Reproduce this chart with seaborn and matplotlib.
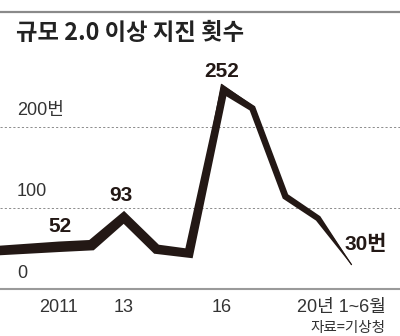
import numpy as np
import pandas as pd
import matplotlib
matplotlib.use("Agg")
import matplotlib.pyplot as plt
import matplotlib.transforms as mtransforms
from matplotlib.lines import Line2D
from matplotlib import font_manager as fm
import seaborn as sns

# ---- data -------------------------------------------------------------
years = [2009, 2010, 2011, 2012, 2013, 2014, 2015, 2016, 2017, 2018, 2019, 2020]
counts = [47, 49.5, 52, 54, 93, 49, 44, 252, 224, 115, 88, 30]
value_labels = {2011: "52", 2013: "93", 2016: "252", 2020: "30번"}
tick_years = [2011, 2013, 2016, 2020]
tick_labels = ["2011", "13", "16", "20년 1~6월"]
grid_values = [0, 100, 200]
grid_labels = ["0", "100", "200번"]
title = "규모 2.0 이상 지진 횟수"
source = "자료=기상청"

# ---- stroke style: pen width (px) and share of it above the data line --
stroke_px = [9.5, 10, 10.5, 10.5, 9, 9.5, 9, 7, 6.5, 6.5, 6, 0.6]
stroke_top = [0.5, 0.5, 0.5, 0.5, 0.2, 0.5, 0.5, 0.0, 0.2, 0.3, 0.3, 0.5]

INK = "#231815"
GRAY_TXT = "#333333"

sns.set_theme(style="white")
names = {f.name for f in fm.fontManager.ttflist}
latin = "Liberation Sans Narrow" if "Liberation Sans Narrow" in names else "Liberation Sans"
FONTS = [latin, "Noto Sans CJK KR", "DejaVu Sans"]
plt.rcParams["font.family"] = FONTS

DPI = 100
fig = plt.figure(figsize=(4.0, 3.36), dpi=DPI)
fig.patch.set_facecolor("white")

# axes: zero line 289px from top, 0.812 px per unit
ax = fig.add_axes([0.0, (336 - 289) / 336, 1.0, 270 * 0.812 / 336])
ax.set_xlim(2011 - 59 / 32.5, 2011 + 341 / 32.5)
ax.set_ylim(0, 270)
ax.set_facecolor("white")

df = pd.DataFrame({"year": years, "count": counts})


def draw_ribbon(ax, x, y, widths, top_frac, color, max_miter=2.5):
    """Fill a pen-like stroke of varying width along the polyline."""
    pts = ax.transData.transform(np.column_stack([x, y]))
    d = np.diff(pts, axis=0)
    seg_n = np.column_stack([d[:, 1], -d[:, 0]]) / np.hypot(d[:, 0], d[:, 1])[:, None]
    n = len(pts)
    upper, lower = [], []
    for i in range(n):
        if i == 0:
            m = seg_n[0]
        elif i == n - 1:
            m = seg_n[-1]
        else:
            b = seg_n[i - 1] + seg_n[i]
            b = b / np.linalg.norm(b)
            m = b / max(np.dot(b, seg_n[i]), 1 / max_miter)
        upper.append(pts[i] - m * widths[i] * top_frac[i])
        lower.append(pts[i] + m * widths[i] * (1 - top_frac[i]))
    poly = np.vstack([upper, lower[::-1]])
    poly = ax.transData.inverted().transform(poly)
    ax.fill(poly[:, 0], poly[:, 1], color=color, lw=0, zorder=3)


# dashed reference lines
for v in grid_values[1:]:
    ax.axhline(v, color="#8c8c8c", lw=0.7, ls=(0, (2.2, 2.2)), zorder=1)

# the line itself
sns.lineplot(data=df, x="year", y="count", ax=ax, color=INK, lw=0.9, zorder=4)
draw_ribbon(ax, df["year"].values, df["count"].values, stroke_px, stroke_top, INK)

# y value labels above each reference line
ylab_tf = mtransforms.blended_transform_factory(ax.transAxes, ax.transData)
for v, t in zip(grid_values, grid_labels):
    ax.annotate(t, xy=(17 / 400, v), xycoords=ylab_tf, xytext=(0, 16),
                textcoords="offset pixels", ha="left", va="center",
                fontsize=13, color=GRAY_TXT, family=FONTS)

# point labels
offsets = {2011: (1, 20, "center"), 2013: (-3, 18, "center"),
           2016: (0, 13, "center"), 2020: (-7, 20, "left")}
for yr, txt in value_labels.items():
    dx, dy, ha = offsets[yr]
    ax.annotate(txt, xy=(yr, counts[years.index(yr)]), xytext=(dx, dy),
                textcoords="offset pixels", ha=ha, va="center",
                fontsize=15, fontweight="bold", color=INK, family=FONTS, zorder=5)

# axes styling
for s in ["left", "right", "top"]:
    ax.spines[s].set_visible(False)
ax.spines["bottom"].set_color("#9a9a9a")
ax.spines["bottom"].set_linewidth(1.5)
ax.set_yticks([])
ax.set_xticks(tick_years)
ax.set_xticklabels(tick_labels, fontsize=13, color=GRAY_TXT, family=FONTS)
ax.tick_params(axis="x", direction="in", length=6.5, width=0.8, color="#8c8c8c", pad=7)
ax.set_xlabel("")
ax.set_ylabel("")
last = ax.get_xticklabels()[-1]
last.set_transform(last.get_transform() + mtransforms.ScaledTranslation(-10 / DPI, 0, fig.dpi_scale_trans))

# header rule and title
fig.add_artist(Line2D([0, 1], [1 - 11.5 / 336] * 2, transform=fig.transFigure,
                      color="#8a8a8a", lw=1.6))
fig.text(16 / 400, 1 - 33 / 336, title, ha="left", va="center", fontsize=16.8,
         fontweight="bold", color="#222222", family=["Noto Sans CJK KR", "DejaVu Sans"])
fig.text(385 / 400, 1 - 328 / 336, source, ha="right", va="center", fontsize=10.5,
         color=GRAY_TXT, family=["Noto Sans CJK KR", "DejaVu Sans"])

fig.savefig("out.png", dpi=DPI, facecolor="white")
